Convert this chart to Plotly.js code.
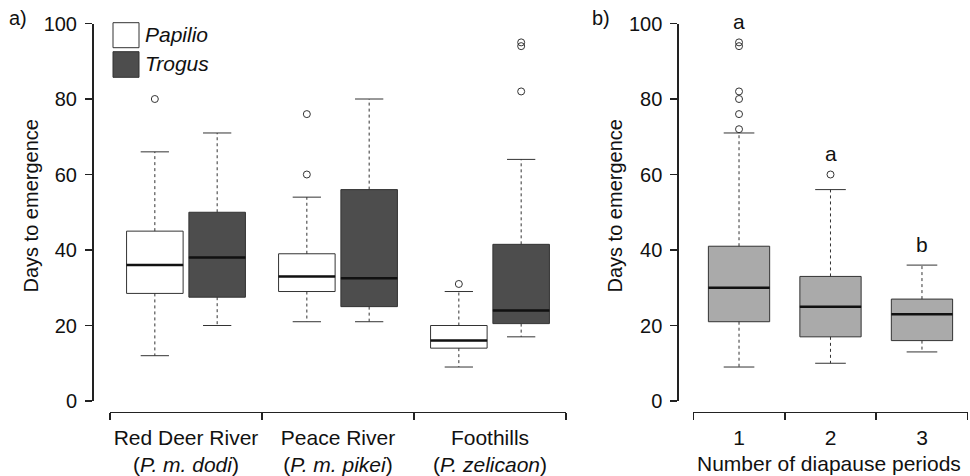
<!DOCTYPE html>
<html>
<head>
<meta charset="utf-8">
<script src="https://cdn.plot.ly/plotly-3.0.1.min.js"></script>
<style>html,body{margin:0;padding:0;background:#fff;}#chart{width:970px;height:476px;}</style>
</head>
<body>
<div id="chart"></div>
<script>
// ---- data (panel a) ----
const groups = ['Red Deer River', 'Peace River', 'Foothills'];
const groupTaxa = ['P. m. dodi', 'P. m. pikei', 'P. zelicaon'];
const seriesNames = ['Papilio', 'Trogus'];
const papilioQ1 = [28.5, 29, 14];
const papilioMedian = [36, 33, 16];
const papilioQ3 = [45, 39, 20];
const papilioLow = [12, 21, 9];
const papilioHigh = [66, 54, 29];
const papilioOutliers = [[80], [60, 76], [31]];
const trogusQ1 = [27.5, 25, 20.5];
const trogusMedian = [38, 32.5, 24];
const trogusQ3 = [50, 56, 41.5];
const trogusLow = [20, 21, 17];
const trogusHigh = [71, 80, 64];
const trogusOutliers = [[], [], [82, 94, 95]];
// ---- data (panel b) ----
const periods = ['1', '2', '3'];
const periodQ1 = [21, 17, 16];
const periodMedian = [30, 25, 23];
const periodQ3 = [41, 33, 27];
const periodLow = [9, 10, 13];
const periodHigh = [71, 56, 36];
const periodOutliers = [[72, 76, 80, 82, 94, 95], [60], []];
const periodLetters = ['a', 'a', 'b'];
const yTicks = [0, 20, 40, 60, 80, 100];

const FONT = 'Liberation Sans, Arial, Helvetica, sans-serif';
const AX = '#222';
const traces = [];

function addBoxes(xa, ya, pos, width, q1, med, q3, lo, hi, outs, fill) {
  traces.push({
    type: 'box', xaxis: xa, yaxis: ya, x: pos, q1: q1, median: med, q3: q3,
    lowerfence: q1, upperfence: q3, width: width, fillcolor: fill,
    line: {color: '#333', width: 1}, whiskerwidth: 0, boxpoints: false,
    showlegend: false, hoverinfo: 'skip'
  });
  const wx = [], wy = [], cx = [], cy = [], mx = [], my = [], ox = [], oy = [];
  const cap = width / 4;
  pos.forEach((p, i) => {
    wx.push(p, p, null, p, p, null);
    wy.push(q3[i], hi[i], null, q1[i], lo[i], null);
    cx.push(p - cap, p + cap, null, p - cap, p + cap, null);
    cy.push(hi[i], hi[i], null, lo[i], lo[i], null);
    mx.push(p - width / 2, p + width / 2, null);
    my.push(med[i], med[i], null);
    outs[i].forEach(v => { ox.push(p); oy.push(v); });
  });
  traces.push({type: 'scatter', mode: 'lines', xaxis: xa, yaxis: ya, x: wx, y: wy,
    line: {color: '#333', width: 1, dash: '3px,3px'}, showlegend: false, hoverinfo: 'skip'});
  traces.push({type: 'scatter', mode: 'lines', xaxis: xa, yaxis: ya, x: cx, y: cy,
    line: {color: '#333', width: 1}, showlegend: false, hoverinfo: 'skip'});
  traces.push({type: 'scatter', mode: 'lines', xaxis: xa, yaxis: ya, x: mx, y: my,
    line: {color: '#111', width: 2.5}, showlegend: false, hoverinfo: 'skip'});
  traces.push({type: 'scatter', mode: 'markers', xaxis: xa, yaxis: ya, x: ox, y: oy,
    marker: {symbol: 'circle-open', size: 7, color: '#333', line: {width: 1, color: '#333'}},
    showlegend: false, hoverinfo: 'y', cliponaxis: false});
}

const gIdx = groups.map((g, i) => i + 1);
addBoxes('x', 'y', gIdx.map(v => v - 0.205), 0.372, papilioQ1, papilioMedian, papilioQ3, papilioLow, papilioHigh, papilioOutliers, '#ffffff');
addBoxes('x', 'y', gIdx.map(v => v + 0.205), 0.372, trogusQ1, trogusMedian, trogusQ3, trogusLow, trogusHigh, trogusOutliers, '#4d4d4d');
const pIdx = periods.map((p, i) => i + 1);
addBoxes('x2', 'y2', pIdx, 0.67, periodQ1, periodMedian, periodQ3, periodLow, periodHigh, periodOutliers, '#aaaaaa');

const W = 970, H = 476;
const px = v => v / W;
const py = v => (H - v) / H;
const axisBottom = py(411.7);
const yDom = [py(401), py(23.5)];

function sepAxis(dom) {
  return {domain: dom, range: [0.5, 3.5], anchor: 'free', position: axisBottom,
    showline: true, linecolor: AX, linewidth: 1.5, ticks: 'outside', ticklen: 7,
    tickwidth: 1.5, tickcolor: AX, tickvals: [0.5, 1.5, 2.5, 3.5], showticklabels: false,
    showgrid: false, zeroline: false, fixedrange: true};
}
function labelAxis(over, labels) {
  return {overlaying: over, matches: over, range: [0.5, 3.5], anchor: 'free', position: axisBottom,
    showline: false, ticks: '', tickvals: [1, 2, 3], ticktext: labels, ticklabelstandoff: 11,
    tickfont: {family: FONT, size: 21, color: '#111'}, showgrid: false, zeroline: false, fixedrange: true};
}
function yAxis(pos) {
  return {domain: yDom, range: [0, 100], anchor: 'free', position: pos,
    showline: true, linecolor: AX, linewidth: 1.5, ticks: 'outside', ticklen: 7,
    tickwidth: 1.5, tickcolor: AX, tickvals: yTicks, ticklabelstandoff: 4,
    tickfont: {family: FONT, size: 20, color: '#111'}, showgrid: false, zeroline: false, fixedrange: true};
}

const annotations = [
  {text: 'a)', xref: 'paper', yref: 'paper', x: px(17.5), y: py(18), xanchor: 'center', yanchor: 'middle', showarrow: false, font: {family: FONT, size: 20, color: '#111'}},
  {text: 'b)', xref: 'paper', yref: 'paper', x: px(601), y: py(18), xanchor: 'center', yanchor: 'middle', showarrow: false, font: {family: FONT, size: 20, color: '#111'}},
  {text: 'Days to emergence', xref: 'paper', yref: 'paper', x: px(30.5), y: py(206), textangle: -90, xanchor: 'center', yanchor: 'middle', showarrow: false, font: {family: FONT, size: 20, color: '#111'}},
  {text: 'Days to emergence', xref: 'paper', yref: 'paper', x: px(614.5), y: py(206), textangle: -90, xanchor: 'center', yanchor: 'middle', showarrow: false, font: {family: FONT, size: 20, color: '#111'}},
  {text: 'Number of diapause periods', xref: 'paper', yref: 'paper', x: px(829), y: py(463), xanchor: 'center', yanchor: 'middle', showarrow: false, font: {family: FONT, size: 21, color: '#111'}},
  {text: '<i>' + seriesNames[0] + '</i>', xref: 'paper', yref: 'paper', x: px(143), y: py(35), xanchor: 'left', yanchor: 'middle', showarrow: false, font: {family: FONT, size: 21, color: '#111'}},
  {text: '<i>' + seriesNames[1] + '</i>', xref: 'paper', yref: 'paper', x: px(143), y: py(64), xanchor: 'left', yanchor: 'middle', showarrow: false, font: {family: FONT, size: 21, color: '#111'}}
];
periods.forEach((p, i) => {
  const top = Math.max(periodHigh[i], ...periodOutliers[i]);
  annotations.push({text: periodLetters[i], xref: 'x2', yref: 'y2', x: i + 1, y: top + 2,
    xanchor: 'center', yanchor: 'bottom', showarrow: false, font: {family: FONT, size: 21, color: '#111'}});
});

const shapes = [
  {type: 'rect', xref: 'paper', yref: 'paper', x0: px(113), x1: px(139), y0: py(47.7), y1: py(22.7), fillcolor: '#ffffff', line: {color: '#333', width: 1}},
  {type: 'rect', xref: 'paper', yref: 'paper', x0: px(113), x1: px(139), y0: py(77.3), y1: py(51.7), fillcolor: '#4d4d4d', line: {color: '#333', width: 1}}
];

const layout = {
  width: W, height: H, margin: {l: 0, r: 0, t: 0, b: 0},
  paper_bgcolor: '#ffffff', plot_bgcolor: 'rgba(0,0,0,0)',
  showlegend: false, boxmode: 'overlay',
  font: {family: FONT, size: 20, color: '#111'},
  xaxis: sepAxis([px(110), px(566)]),
  xaxis2: sepAxis([px(693.3), px(967.7)]),
  xaxis3: labelAxis('x', groups.map((g, i) => g + '<br>(<i>' + groupTaxa[i] + '</i>)')),
  xaxis4: labelAxis('x2', periods),
  yaxis: yAxis(px(92)),
  yaxis2: yAxis(px(677.3)),
  annotations: annotations, shapes: shapes
};
// give the label axes something to attach to
traces.push({type: 'scatter', xaxis: 'x3', yaxis: 'y', x: [], y: [], showlegend: false});
traces.push({type: 'scatter', xaxis: 'x4', yaxis: 'y2', x: [], y: [], showlegend: false});

Plotly.newPlot('chart', traces, layout, {displayModeBar: false, staticPlot: true});
</script>
</body>
</html>
